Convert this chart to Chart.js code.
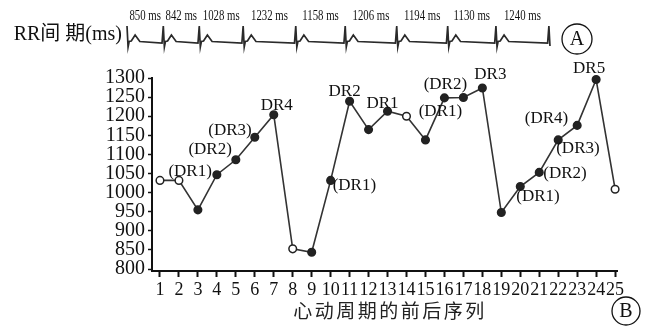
<!DOCTYPE html>
<html>
<head>
<meta charset="utf-8">
<script src="https://cdn.jsdelivr.net/npm/chart.js@4.4.1/dist/chart.umd.min.js"></script>
<style>
    html, body { margin: 0; padding: 0; background: #fff; }
    #wrap { position: relative; width: 646px; height: 326px; }
    #wrap canvas { position: absolute; left: 0; top: 0; }
</style>
</head>
<body>
<div id="wrap">
    <canvas id="mainChart" width="646" height="326"></canvas>
    <canvas id="ecgChart" width="646" height="60"></canvas>
</div>
<script>
// --- Panel A: ECG strip ---
// beat times (ms), cumulative from the RR intervals written above the trace
const rrIntervals = [850, 842, 1028, 1232, 1158, 1206, 1194, 1130, 1240];
const beatTimes = [0, 850, 1692, 2720, 3952, 5110, 6316, 7510, 8640, 9880];
const rrLabels = ['850 ms', '842 ms', '1028 ms', '1232 ms', '1158 ms', '1206 ms', '1194 ms', '1130 ms', '1240 ms'];

// traced trace points: time (ms) and amplitude (arbitrary units)
const ecgTime = [
    0, 25, 50, 100, 190, 300, 820,
    850, 875, 900, 950, 1040, 1150, 1662,
    1692, 1717, 1742, 1792, 1882, 1992, 2690,
    2720, 2745, 2770, 2820, 2910, 3020, 3922,
    3952, 3977, 4002, 4052, 4142, 4252, 5080,
    5110, 5135, 5160, 5210, 5300, 5410, 6286,
    6316, 6341, 6366, 6416, 6506, 6616, 7480,
    7510, 7535, 7560, 7610, 7700, 7810, 8610,
    8640, 8665, 8690, 8740, 8830, 8940, 9850,
    9880, 9905
];
const ecgAmp = [
    1.6, -0.5, 0.05, 0.1, 0.7, 0.05, -0.1,
    1.6, -0.5, 0.05, 0.1, 0.7, 0.05, -0.1,
    1.6, -0.5, 0.05, 0.1, 0.7, 0.05, -0.1,
    1.6, -0.5, 0.05, 0.1, 0.7, 0.05, -0.1,
    1.6, -0.5, 0.05, 0.1, 0.7, 0.05, -0.1,
    1.6, -0.5, 0.05, 0.1, 0.7, 0.05, -0.1,
    1.6, -0.5, 0.05, 0.1, 0.7, 0.05, -0.1,
    1.6, -0.5, 0.05, 0.1, 0.7, 0.05, -0.1,
    1.6, -0.5, 0.05, 0.1, 0.7, 0.05, -0.1,
    1.6, -0.4
];

// --- Panel B: RR interval per cycle ---
const cycles = [1, 2, 3, 4, 5, 6, 7, 8, 9, 10, 11, 12, 13, 14, 15, 16, 17, 18, 19, 20, 21, 22, 23, 24, 25];
const rrValues = [1032, 1032, 955, 1047, 1086, 1145, 1204, 853, 844, 1032, 1239, 1165, 1213, 1200, 1138, 1248, 1249, 1274, 948, 1016, 1053, 1138, 1176, 1296, 1009];
const hollowCycles = [1, 2, 8, 14, 25];
const drLabels = ['', '', '', '(DR1)', '(DR2)', '(DR3)', 'DR4', '', '', '(DR1)', 'DR2', '', 'DR1', '', '', '(DR1)', '(DR2)', 'DR3', '', '(DR1)', '(DR2)', '(DR3)', '(DR4)', 'DR5', ''];
const yTicks = [800, 850, 900, 950, 1000, 1050, 1100, 1150, 1200, 1250, 1300];

const SERIF = '"Liberation Serif", "Times New Roman", serif';
const CJK = '"Liberation Serif", "Noto Sans CJK SC", serif';

// where each annotation sits relative to its point
const labelPlace = {
    4:  { align: 'right',  dx: -5,  dy: -3 },
    5:  { align: 'right',  dx: -4,  dy: -10 },
    6:  { align: 'right',  dx: -3,  dy: -7 },
    7:  { align: 'center', dx: 3,   dy: -9 },
    10: { align: 'left',   dx: 2,   dy: 5 },
    11: { align: 'center', dx: -5,  dy: -10 },
    13: { align: 'center', dx: -5,  dy: -8 },
    16: { align: 'center', dx: -4,  dy: 14 },
    17: { align: 'center', dx: -18, dy: -13 },
    18: { align: 'center', dx: 8,   dy: -13 },
    20: { align: 'left',   dx: -4,  dy: 10 },
    21: { align: 'left',   dx: 4,   dy: 1 },
    22: { align: 'left',   dx: -2,  dy: 9 },
    23: { align: 'right',  dx: -9,  dy: -7 },
    24: { align: 'center', dx: -7,  dy: -11 }
};

function circledLetter(ctx, letter, cx, cy, r) {
    ctx.save();
    ctx.strokeStyle = '#111';
    ctx.lineWidth = 1.3;
    ctx.beginPath();
    ctx.arc(cx, cy, r, 0, Math.PI * 2);
    ctx.stroke();
    ctx.fillStyle = '#111';
    ctx.font = '20px ' + SERIF;
    ctx.textAlign = 'center';
    ctx.textBaseline = 'middle';
    ctx.fillText(letter, cx, cy + 1);
    ctx.restore();
}

// ECG decorations: RR labels, left caption, circled A
const ecgDecor = {
    id: 'ecgDecor',
    afterDraw(chart) {
        const ctx = chart.ctx;
        const xs = chart.scales.x;
        ctx.save();
        ctx.fillStyle = '#111';
        ctx.textBaseline = 'middle';
        ctx.textAlign = 'center';
        ctx.font = '15px ' + SERIF;
        rrLabels.forEach((lbl, i) => {
            const mid = xs.getPixelForValue((beatTimes[i] + beatTimes[i + 1]) / 2);
            ctx.save();
            ctx.translate(mid, 16);
            ctx.scale(0.72, 1);
            ctx.fillText(lbl, 0, 0);
            ctx.restore();
        });
        ctx.font = '20px ' + CJK;
        ctx.textAlign = 'right';
        ctx.fillText('RR间 期(ms)', 122, 35);
        ctx.restore();
        circledLetter(ctx, 'A', 577, 39, 15);
    }
};

new Chart(document.getElementById('ecgChart'), {
    type: 'line',
    data: {
        datasets: [{
            data: ecgTime.map((t, i) => ({ x: t, y: ecgAmp[i] })),
            borderColor: '#2a2a2a',
            borderWidth: 1.7,
            pointRadius: 0,
            tension: 0,
            fill: false,
            clip: false
        }]
    },
    options: {
        responsive: false,
        animation: false,
        layout: { padding: { left: 120, right: 86, top: 18, bottom: 8 } },
        plugins: { legend: { display: false }, tooltip: { enabled: false } },
        scales: {
            x: { type: 'linear', min: -164, max: 10140, display: false },
            y: { min: -1.0, max: 2.4, display: false }
        }
    },
    plugins: [ecgDecor]
});

// annotations, axis caption and circled B
const mainDecor = {
    id: 'mainDecor',
    afterDatasetsDraw(chart) {
        const ctx = chart.ctx;
        const pts = chart.getDatasetMeta(0).data;
        ctx.save();
        ctx.fillStyle = '#111';
        ctx.font = '17px ' + SERIF;
        ctx.textBaseline = 'middle';
        drLabels.forEach((lbl, i) => {
            if (!lbl) return;
            const p = labelPlace[i + 1];
            ctx.textAlign = p.align;
            ctx.fillText(lbl, pts[i].x + p.dx, pts[i].y + p.dy);
        });
        ctx.restore();
    },
    afterDraw(chart) {
        const ctx = chart.ctx;
        ctx.save();
        ctx.fillStyle = '#222';
        ctx.font = '19px "Noto Sans CJK SC", sans-serif';
        ctx.letterSpacing = '2.5px';
        ctx.textAlign = 'center';
        ctx.textBaseline = 'middle';
        ctx.fillText('心动周期的前后序列', 390, 311);
        ctx.restore();
        circledLetter(ctx, 'B', 626, 311, 14);
    }
};

new Chart(document.getElementById('mainChart'), {
    type: 'line',
    data: {
        datasets: [{
            data: cycles.map((c, i) => ({ x: c, y: rrValues[i] })),
            borderColor: '#333',
            borderWidth: 1.6,
            tension: 0,
            fill: false,
            clip: false,
            pointRadius: 3.8,
            pointBorderWidth: 1.5,
            pointBorderColor: '#222',
            pointBackgroundColor: cycles.map(c => hollowCycles.includes(c) ? '#fff' : '#222')
        }]
    },
    options: {
        responsive: false,
        animation: false,
        layout: { padding: { left: 0, right: 29, top: 78, bottom: 0 } },
        plugins: { legend: { display: false }, tooltip: { enabled: false } },
        scales: {
            x: {
                type: 'linear',
                min: 0.58,
                max: 25.1,
                afterBuildTicks: (scale) => { scale.ticks = cycles.map(v => ({ value: v })); },
                afterFit: (scale) => { scale.height = 55; },
                border: { color: '#111', width: 2 },
                grid: { drawOnChartArea: false, tickLength: 6, tickWidth: 2, tickColor: '#111' },
                ticks: {
                    autoSkip: false,
                    maxRotation: 0,
                    padding: 2,
                    color: '#111',
                    font: { family: SERIF, size: 18 },
                    callback: (v) => String(v)
                }
            },
            y: {
                min: 795,
                max: 1300,
                afterBuildTicks: (scale) => { scale.ticks = yTicks.map(v => ({ value: v })); },
                afterFit: (scale) => { scale.width = 152; },
                border: { color: '#111', width: 2 },
                grid: { drawOnChartArea: false, tickLength: 4, tickWidth: 1.5, tickColor: '#111' },
                ticks: {
                    autoSkip: false,
                    padding: 3,
                    color: '#111',
                    font: { family: SERIF, size: 20 },
                    callback: (v) => String(v)
                }
            }
        }
    },
    plugins: [mainDecor]
});
</script>
</body>
</html>
